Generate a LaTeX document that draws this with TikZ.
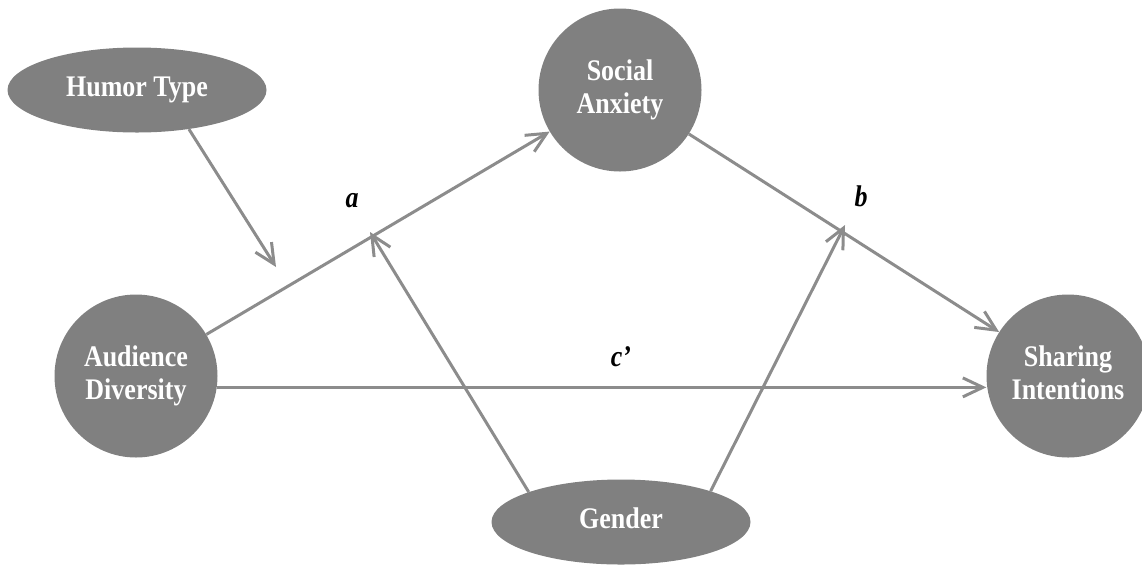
\documentclass[tikz,border=0pt]{standalone}
\usepackage{fontspec}
\setmainfont{Liberation Serif}
\usepackage{graphicx}
\usetikzlibrary{shapes.geometric,arrows.meta}
\definecolor{nodegray}{RGB}{128,128,128}
\definecolor{linegray}{RGB}{140,140,140}
\newcommand{\lbltxt}[1]{\scalebox{1}[1.15]{\begin{tabular}{@{}c@{}}#1\end{tabular}}}
\tikzset{
  var/.style={circle, fill=nodegray, minimum size=163pt, inner sep=0pt, text=white,
    font=\fontsize{26}{28.7}\selectfont\bfseries},
  mod/.style={ellipse, fill=nodegray, minimum width=259pt, minimum height=85pt, inner sep=0pt, text=white,
    font=\fontsize{26}{28.7}\selectfont\bfseries},
  arr/.style={draw=linegray, line width=3pt, -{Straight Barb[length=20pt,width=19pt]}},
  pathlbl/.style={font=\fontsize{26}{28}\selectfont\bfseries\itshape, text=black}
}
\begin{document}
\begin{tikzpicture}[x=1pt,y=1pt]
\useasboundingbox (0,0) rectangle (1142,-566);
\node[mod] (hum) at (137,-90) {\lbltxt{Humor Type}};
\node[var] (soc) at (620,-90) {\lbltxt{Social\\Anxiety}};
\node[var] (aud) at (136,-376) {\lbltxt{Audience\\Diversity}};
\node[var] (shr) at (1068,-376) {\lbltxt{Sharing\\Intentions}};
\node[mod] (gen) at (621,-522) {\lbltxt{Gender}};
\coordinate (ha) at (276,-267);
\coordinate (ga) at (370,-232);
\coordinate (gb) at (845,-225);
\draw[arr] (aud) -- (soc);
\draw[arr] (soc) -- (shr);
\draw[arr] (aud.-8.5) -- (aud.-8.5 -| shr.west);
\draw[arr] (hum.-37.2) -- (ha);
\draw[arr] (gen.162.3) -- (ga);
\draw[arr] (gen.19.2) -- (gb);
\node[pathlbl] (la) at (352,-201) {\scalebox{1}[1.15]{a}};
\node[pathlbl] (lb) at (861,-196) {\scalebox{1}[1.15]{b}};
\node[pathlbl] (lc) at (621,-357) {\scalebox{1}[1.15]{c’}};
\end{tikzpicture}
\end{document}
